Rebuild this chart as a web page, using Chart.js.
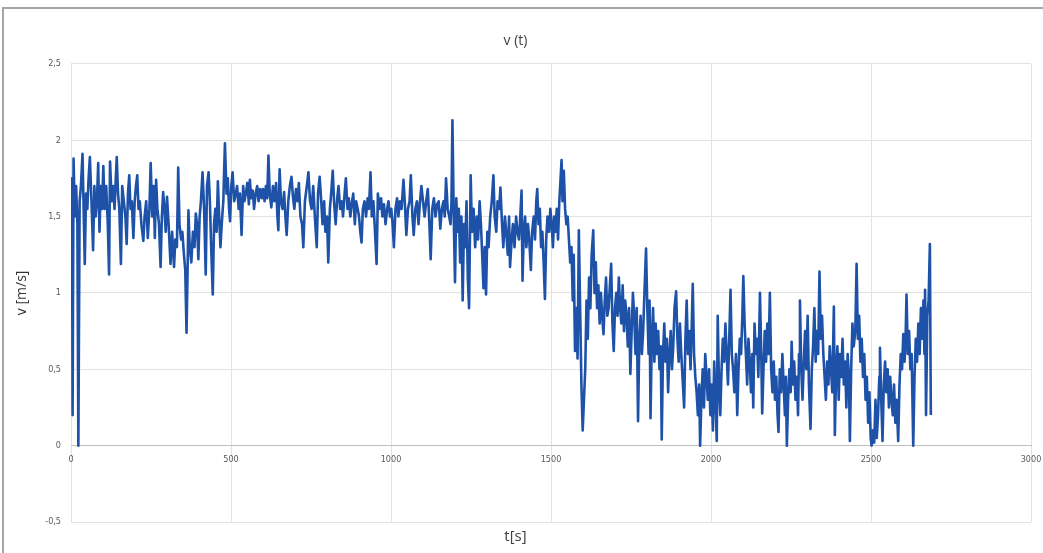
<!DOCTYPE html>
<html>
<head>
<meta charset="utf-8">
<title>v (t)</title>
<script src="https://cdn.jsdelivr.net/npm/chart.js@4"></script>
<style>
    html, body { margin: 0; padding: 0; background: #fff; overflow: hidden; }
    #frame { position: absolute; left: 2px; top: 7px; width: 1200px; height: 700px; border: 2px solid #a6a6a6; }
    #wrap { position: absolute; left: 0; top: 0; width: 1060px; height: 553px; }
</style>
</head>
<body>
<div id="frame"></div>
<div id="wrap"><canvas id="speedChart" width="1060" height="553"></canvas></div>
<script>
// time [s] and speed [m/s]
const times = [
    0, 3, 5, 8, 12, 16, 20, 23, 27, 31, 36, 40, 43, 47, 51, 55, 59, 64, 69, 73, 77, 81, 85, 89, 93, 97, 101,
    105, 110, 115, 119, 122, 127, 132, 136, 140, 143, 147, 151, 156, 160, 165, 170, 174, 178, 182, 186, 190, 195, 199,
    203, 207, 211, 215, 220, 226, 230, 235, 240, 245, 249, 254, 258, 262, 266, 270, 275, 280, 284, 288, 292, 296,
    300, 305, 311, 316, 322, 326, 331, 335, 339, 344, 348, 353, 357, 361, 364, 367, 371, 376, 381, 386, 390, 394, 398,
    402, 406, 411, 416, 421, 425, 430, 434, 438, 443, 447, 451, 455, 459, 463, 467, 471, 476, 481, 486, 490, 494, 497,
    501, 505, 510, 515, 519, 524, 528, 533, 538, 542, 547, 551, 556, 559, 563, 568, 572, 577, 582, 586, 591, 596,
    600, 605, 609, 613, 617, 621, 626, 631, 636, 641, 645, 648, 652, 656, 661, 666, 670, 674, 679, 684, 689, 694, 698,
    703, 708, 712, 717, 722, 726, 731, 737, 742, 747, 752, 757, 762, 768, 772, 777, 782, 786, 791, 795, 800, 804,
    809, 813, 818, 822, 827, 832, 836, 841, 846, 850, 855, 859, 864, 868, 873, 877, 882, 887, 891, 896,
    900, 904, 908, 912, 917, 922, 927, 931, 936, 940, 945, 950, 955, 959, 964, 969, 973, 978, 983, 988, 992, 997,
    1001, 1005, 1009, 1014, 1019, 1023, 1028, 1033, 1039, 1043, 1048, 1053, 1058, 1062, 1067, 1071, 1076, 1081, 1086, 1090, 1095, 1100,
    1105, 1110, 1115, 1120, 1124, 1129, 1134, 1139, 1144, 1149, 1154, 1159, 1164, 1168, 1172, 1177, 1182, 1186, 1189, 1192, 1196, 1200,
    1204, 1208, 1212, 1216, 1220, 1224, 1228, 1232, 1236, 1240, 1244, 1249, 1253, 1258, 1263, 1268, 1272, 1277, 1281, 1285, 1289, 1293, 1297,
    1301, 1305, 1310, 1315, 1320, 1324, 1329, 1333, 1338, 1342, 1347, 1351, 1356, 1360, 1365, 1369, 1372, 1377, 1381, 1386, 1391, 1395, 1400,
    1404, 1408, 1411, 1415, 1419, 1423, 1428, 1432, 1437, 1441, 1446, 1450, 1454, 1457, 1461, 1465, 1469, 1473, 1477, 1481, 1485, 1489, 1494, 1498,
    1502, 1506, 1510, 1514, 1518, 1522, 1526, 1530, 1533, 1536, 1540, 1544, 1548, 1552, 1556, 1560, 1564, 1568, 1571, 1575, 1579, 1583, 1587, 1591, 1595, 1599,
    1603, 1607, 1611, 1615, 1619, 1623, 1627, 1632, 1636, 1640, 1644, 1648, 1652, 1656, 1660, 1664, 1668, 1672, 1676, 1680, 1684, 1688, 1692, 1696, 1700,
    1704, 1708, 1712, 1716, 1720, 1724, 1728, 1732, 1736, 1740, 1744, 1748, 1752, 1756, 1760, 1764, 1768, 1772, 1776, 1780, 1784, 1788, 1792, 1797,
    1801, 1805, 1808, 1811, 1815, 1819, 1823, 1827, 1831, 1835, 1839, 1843, 1846, 1850, 1854, 1858, 1862, 1866, 1870, 1874, 1878, 1882, 1886, 1891, 1895, 1899,
    1903, 1907, 1911, 1916, 1920, 1924, 1928, 1932, 1936, 1940, 1943, 1947, 1951, 1955, 1959, 1963, 1966, 1970, 1974, 1978, 1982, 1986, 1990, 1994, 1998,
    2002, 2006, 2010, 2014, 2018, 2021, 2025, 2029, 2033, 2037, 2041, 2045, 2049, 2053, 2057, 2061, 2065, 2069, 2073, 2078, 2082, 2086, 2090, 2094, 2098, 2101,
    2105, 2109, 2113, 2117, 2121, 2125, 2129, 2132, 2136, 2140, 2144, 2148, 2153, 2157, 2160, 2164, 2168, 2172, 2176, 2180, 2184, 2188, 2192, 2196, 2200,
    2204, 2208, 2211, 2215, 2219, 2223, 2227, 2231, 2234, 2237, 2241, 2245, 2249, 2252, 2256, 2260, 2264, 2268, 2272, 2275, 2278, 2282, 2286, 2290, 2294, 2298,
    2302, 2306, 2311, 2315, 2319, 2323, 2327, 2331, 2335, 2339, 2343, 2347, 2351, 2355, 2359, 2363, 2367, 2371, 2375, 2379, 2384, 2387, 2391, 2395, 2399,
    2403, 2407, 2411, 2415, 2419, 2423, 2427, 2431, 2434, 2438, 2442, 2446, 2451, 2455, 2459, 2463, 2467, 2471, 2475, 2479, 2483, 2487, 2491, 2495, 2499, 2502,
    2506, 2510, 2514, 2518, 2522, 2526, 2528, 2532, 2536, 2540, 2544, 2548, 2552, 2556, 2560, 2564, 2568, 2572, 2576, 2580, 2585, 2589, 2593, 2597, 2601,
    2605, 2608, 2611, 2615, 2619, 2623, 2627, 2632, 2636, 2640, 2644, 2648, 2652, 2656, 2660, 2664, 2667, 2669, 2672, 2676, 2680, 2684, 2687
];

const speeds = [
    1.15, 1.75, 0.2, 1.88, 1.5, 1.7, 1.45, 0.0, 1.6, 1.7, 1.91, 1.5, 1.19, 1.65, 1.55, 1.75, 1.89, 1.6, 1.28, 1.7, 1.5, 1.6, 1.85, 1.4, 1.7, 1.55, 1.83,
    1.55, 1.7, 1.45, 1.12, 1.86, 1.6, 1.7, 1.55, 1.75, 1.89, 1.65, 1.55, 1.19, 1.7, 1.6, 1.5, 1.32, 1.65, 1.77, 1.55, 1.6, 1.36, 1.6,
    1.7, 1.77, 1.55, 1.6, 1.45, 1.34, 1.5, 1.6, 1.36, 1.55, 1.85, 1.5, 1.7, 1.36, 1.74, 1.55, 1.45, 1.17, 1.5, 1.66, 1.55, 1.4,
    1.63, 1.45, 1.19, 1.4, 1.17, 1.35, 1.3, 1.82, 1.45, 1.35, 1.4, 1.25, 1.15, 0.74, 1.1, 1.54, 1.3, 1.2, 1.4, 1.3, 1.52, 1.45, 1.22,
    1.5, 1.6, 1.79, 1.55, 1.12, 1.7, 1.79, 1.6, 1.3, 0.99, 1.45, 1.55, 1.4, 1.73, 1.5, 1.3, 1.45, 1.6, 1.98, 1.65, 1.75, 1.55, 1.47,
    1.7, 1.79, 1.6, 1.65, 1.7, 1.55, 1.65, 1.38, 1.7, 1.6, 1.66, 1.72, 1.58, 1.74, 1.62, 1.67, 1.55, 1.65, 1.7, 1.6, 1.68, 1.62,
    1.68, 1.6, 1.7, 1.62, 1.9, 1.65, 1.56, 1.7, 1.6, 1.72, 1.5, 1.41, 1.81, 1.6, 1.55, 1.66, 1.5, 1.38, 1.6, 1.7, 1.76, 1.62, 1.55,
    1.68, 1.6, 1.72, 1.5, 1.45, 1.3, 1.6, 1.7, 1.79, 1.6, 1.55, 1.7, 1.5, 1.3, 1.65, 1.76, 1.6, 1.45, 1.6, 1.4, 1.5, 1.2,
    1.55, 1.65, 1.8, 1.6, 1.45, 1.62, 1.7, 1.55, 1.6, 1.5, 1.65, 1.75, 1.55, 1.62, 1.5, 1.58, 1.65, 1.45, 1.6, 1.55,
    1.5, 1.4, 1.33, 1.55, 1.6, 1.5, 1.62, 1.55, 1.79, 1.5, 1.6, 1.4, 1.19, 1.65, 1.55, 1.62, 1.5, 1.58, 1.45, 1.55, 1.6, 1.5,
    1.55, 1.45, 1.30, 1.55, 1.62, 1.5, 1.6, 1.55, 1.74, 1.6, 1.38, 1.55, 1.6, 1.77, 1.5, 1.38, 1.55, 1.6, 1.45, 1.58, 1.7, 1.6,
    1.5, 1.6, 1.68, 1.45, 1.22, 1.55, 1.62, 1.5, 1.58, 1.6, 1.42, 1.55, 1.6, 1.5, 1.75, 1.55, 1.5, 1.45, 1.6, 2.13, 1.5, 1.07,
    1.62, 1.4, 1.55, 1.2, 1.5, 0.95, 1.45, 1.3, 1.6, 1.1, 0.90, 1.77, 1.4, 1.55, 1.3, 1.5, 1.35, 1.6, 1.45, 1.25, 1.03, 1.3, 0.99,
    1.4, 1.3, 1.5, 1.6, 1.77, 1.5, 1.4, 1.6, 1.55, 1.69, 1.45, 1.3, 1.5, 1.4, 1.25, 1.5, 1.17, 1.35, 1.45, 1.3, 1.5, 1.4, 1.35,
    1.5, 1.67, 1.08, 1.4, 1.5, 1.3, 1.45, 1.35, 1.15, 1.4, 1.5, 1.35, 1.6, 1.68, 1.45, 1.55, 1.3, 1.4, 1.2, 0.96, 1.35, 1.5, 1.4, 1.55,
    1.45, 1.3, 1.5, 1.4, 1.55, 1.35, 1.6, 1.75, 1.87, 1.6, 1.8, 1.55, 1.45, 1.5, 1.35, 1.2, 1.3, 0.95, 1.25, 0.62, 0.9, 0.57, 1.41, 0.9, 0.4, 0.10,
    0.3, 0.5, 0.95, 0.7, 1.1, 0.9, 1.25, 1.41, 1.0, 1.2, 0.9, 1.05, 0.8, 1.0, 0.85, 0.73, 0.95, 1.1, 0.85, 0.9, 1.05, 1.19, 0.8, 0.62, 0.9,
    1.0, 0.85, 1.1, 0.9, 0.8, 1.05, 0.75, 0.95, 0.85, 0.65, 0.9, 0.47, 0.75, 1.0, 0.85, 0.6, 0.9, 0.16, 0.7, 0.85, 0.6, 0.75, 1.0, 1.29,
    0.9, 0.6, 0.95, 0.18, 0.7, 0.9, 0.55, 0.8, 0.6, 0.75, 0.5, 0.65, 0.04, 0.6, 0.8, 0.55, 0.7, 0.35, 0.6, 0.75, 0.5, 0.65, 0.9, 1.01, 0.7, 0.55,
    0.8, 0.6, 0.45, 0.25, 0.7, 0.95, 0.6, 0.75, 0.5, 0.8, 1.06, 0.6, 0.45, 0.35, 0.2, 0.4, 0.0, 0.3, 0.5, 0.25, 0.6, 0.45, 0.3, 0.5, 0.2,
    0.4, 0.1, 0.55, 0.3, 0.03, 0.85, 0.4, 0.2, 0.5, 0.7, 0.55, 0.8, 0.6, 0.4, 0.7, 1.02, 0.6, 0.5, 0.35, 0.6, 0.20, 0.5, 0.7, 0.6, 0.85, 1.11,
    0.8, 0.6, 0.4, 0.7, 0.55, 0.35, 0.6, 0.25, 0.8, 0.6, 0.7, 0.45, 1.0, 0.6, 0.21, 0.5, 0.75, 0.55, 0.8, 0.6, 1.0, 0.5, 0.35, 0.55, 0.3,
    0.45, 0.2, 0.09, 0.5, 0.35, 0.6, 0.4, 0.2, 0.45, 0.0, 0.3, 0.5, 0.35, 0.68, 0.4, 0.55, 0.3, 0.45, 0.2, 0.6, 0.95, 0.5, 0.3, 0.55, 0.75, 0.5,
    0.85, 0.4, 0.11, 0.5, 0.65, 0.9, 0.55, 0.75, 0.6, 1.14, 0.7, 0.85, 0.6, 0.45, 0.3, 0.55, 0.4, 0.65, 0.5, 0.35, 0.91, 0.07, 0.5, 0.65, 0.3,
    0.6, 0.45, 0.7, 0.4, 0.55, 0.25, 0.6, 0.45, 0.03, 0.5, 0.8, 0.65, 0.75, 1.19, 0.7, 0.85, 0.55, 0.7, 0.45, 0.6, 0.3, 0.45, 0.15, 0.35, 0.05, 0.0,
    0.1, 0.02, 0.3, 0.05, 0.2, 0.45, 0.64, 0.3, 0.03, 0.4, 0.55, 0.35, 0.5, 0.25, 0.45, 0.3, 0.2, 0.4, 0.15, 0.3, 0.03, 0.4, 0.6, 0.5, 0.73,
    0.55, 0.7, 0.99, 0.6, 0.75, 0.5, 0.6, 0.0, 0.45, 0.7, 0.55, 0.8, 0.6, 0.9, 0.7, 0.95, 0.6, 1.02, 0.2, 0.85, 0.95, 1.32, 0.2
];

// axis ticks and labels (comma decimals as in the original)
const xTicks = [0, 500, 1000, 1500, 2000, 2500, 3000];
const xTickLabels = ['0', '500', '1000', '1500', '2000', '2500', '3000'];
const yTicks = [-0.5, 0, 0.5, 1, 1.5, 2, 2.5];
const yTickLabels = ['-0,5', '0', '0,5', '1', '1,5', '2', '2,5'];

const labelFont = { family: "'Liberation Sans Narrow', 'DejaVu Sans Condensed', sans-serif", size: 9 };
const textColor = '#404040';

const ctx = document.getElementById('speedChart').getContext('2d');

const speedChart = new Chart(ctx, {
    type: 'line',
    data: {
        datasets: [{
            label: 'v',
            data: times.map((t, i) => ({ x: t, y: speeds[i] })),
            borderColor: '#1d52a8',
            borderWidth: 2.6,
            borderJoinStyle: 'round',
            pointRadius: 0,
            tension: 0,
            fill: false
        }]
    },
    options: {
        responsive: false,
        animation: false,
        layout: { padding: { left: 0, right: 29, top: 0, bottom: 0 } },
        plugins: {
            legend: { display: false },
            tooltip: { enabled: false },
            title: {
                display: true,
                text: 'v (t)',
                color: textColor,
                font: { family: "'Open Sans', sans-serif", size: 14, weight: 'normal' },
                padding: { top: 33, bottom: 14 }
            },
            subtitle: {
                display: true,
                position: 'bottom',
                text: 't[s]',
                color: textColor,
                font: { family: "'Open Sans', sans-serif", size: 15 },
                padding: { top: 6, bottom: 7 }
            }
        },
        scales: {
            x: {
                type: 'linear',
                position: { y: 0 },
                min: 0,
                max: 3000,
                afterBuildTicks: (scale) => { scale.ticks = xTicks.map(v => ({ value: v })); },
                ticks: {
                    color: '#595959',
                    font: labelFont,
                    padding: 9,
                    maxRotation: 0,
                    autoSkip: false,
                    callback: (value, index) => xTickLabels[index]
                },
                grid: { color: '#e2e2e2', drawTicks: false },
                border: { color: '#bfbfbf', width: 1 }
            },
            y: {
                type: 'linear',
                min: -0.5,
                max: 2.5,
                afterBuildTicks: (scale) => { scale.ticks = yTicks.map(v => ({ value: v })); },
                afterFit: (scale) => { scale.width = 71; },
                ticks: {
                    color: '#595959',
                    font: labelFont,
                    padding: 10,
                    callback: (value, index) => yTickLabels[index]
                },
                grid: { color: '#e2e2e2', drawTicks: false },
                border: { display: false },
                title: {
                    display: true,
                    text: 'v [m/s]',
                    color: '#333333',
                    font: { family: "'Open Sans', sans-serif", size: 14 },
                    padding: { top: 14, bottom: 0 }
                }
            }
        }
    }
});
</script>
</body>
</html>
